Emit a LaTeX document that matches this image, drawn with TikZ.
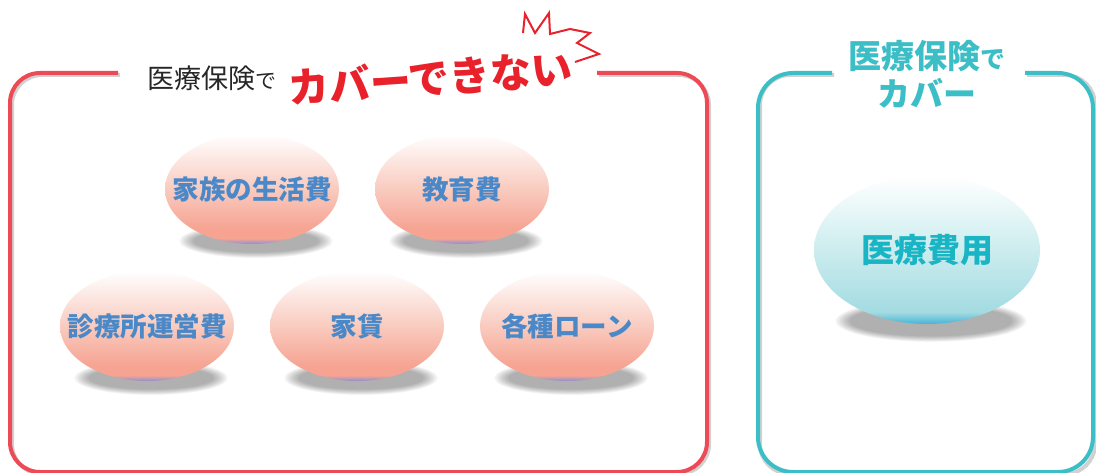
\documentclass[tikz,border=0pt]{standalone}
\usepackage{fontspec}
\newfontfamily\jp{Noto Sans CJK JP}
\usetikzlibrary{shapes.geometric,backgrounds,calc}
\definecolor{boxred}{HTML}{EE4A55}
\definecolor{boxteal}{HTML}{3BBEC6}
\definecolor{titlered}{HTML}{E8212B}
\definecolor{titleteal}{HTML}{3BBEC6}
\definecolor{balltext}{HTML}{4A88C8}
\definecolor{medtext}{HTML}{19B5C4}
\definecolor{ballpurple}{HTML}{8C8FD2}
\definecolor{ballsalmon}{HTML}{F6A392}
\definecolor{ballsalmonb}{HTML}{F9CBBF}
\definecolor{ballteal}{HTML}{45B4D6}
\definecolor{balltealb}{HTML}{A3DBE1}
\definecolor{balltealc}{HTML}{D0EEF0}
\pgfdeclareverticalshading{pinkball}{100bp}{color(0bp)=(ballpurple); color(25bp)=(ballpurple); color(27.5bp)=(ballsalmon); color(32bp)=(ballsalmon); color(50bp)=(ballsalmonb); color(75bp)=(white); color(100bp)=(white)}
\pgfdeclareverticalshading{tealball}{100bp}{color(0bp)=(ballteal); color(25bp)=(ballteal); color(29bp)=(balltealb); color(52bp)=(balltealc); color(75bp)=(white); color(100bp)=(white)}
% #1 name, #2 x radius, #3 y radius, #4 shading
\newcommand\ballbody[4]{%
  \begin{pgfonlayer}{background}
  \foreach \k in {0,...,7}{%
    \fill[black,opacity=0.045] ($(#1)+(4,{#3-3})$) ellipse [x radius={#2*0.72+14-2*\k}, y radius={#3*0.2+6-0.8*\k}];}
  \end{pgfonlayer}
  \shade[shading=#4] (#1) ellipse [x radius=#2, y radius=#3];}
\tikzset{
  boxline/.style={line width=4pt, rounded corners=30pt},
  boxshadow/.style={line width=4pt, rounded corners=30pt, draw=black, opacity=0.18},
  balltxt/.style={inner sep=0pt, font=\jp\bfseries\fontsize{26.5}{30}\selectfont, text=balltext},
  bigtxt/.style={inner sep=0pt, font=\jp\bfseries\fontsize{33}{36}\selectfont, text=medtext},
}
\begin{document}
\begin{tikzpicture}[x=1pt,y=-1pt]
\begin{pgfonlayer}{background}
  \fill[white] (0,0) rectangle (1096,473);
\end{pgfonlayer}
\useasboundingbox (0,0) rectangle (1096,473);

% box shadows
\draw[boxshadow] (120,75) -- (12,75) -- (12,474) -- (709,474) -- (709,75) -- (599,75);
\draw[boxshadow] (834,75) -- (760,75) -- (760,474) -- (1095,474) -- (1095,75) -- (1027,75);
% boxes
\draw[boxline, draw=boxred] (118,73) -- (10,73) -- (10,472) -- (707,472) -- (707,73) -- (597,73);
\draw[boxline, draw=boxteal, rounded corners=35pt] (832,73) -- (758,73) -- (758,472) -- (1093,472) -- (1093,73) -- (1025,73);

% titles
\node[font=\jp\fontsize{27}{30}\selectfont, text=black!85, anchor=west, inner sep=0pt] (t1) at (147,78) {医療保険{\fontsize{21}{24}\selectfont で}};
\node[font=\jp\bfseries\fontsize{41}{46}\selectfont, text=titlered, rotate=4, inner sep=0pt] (t2) at (430,78) {カバーできない};
\draw[titlered, line width=2pt, line join=miter] (523,33) -- (525,14) -- (535,33) -- (549,13) -- (550,34) -- (570,29) -- (590,33) -- (577,43) -- (599,54) -- (575,62);
\node[font=\jp\bfseries\fontsize{33}{38}\selectfont, text=titleteal, align=center] (t3) at (927,74) {医療保険{\fontsize{25}{28}\selectfont で}\\カバー};

% balls
\coordinate (a) at (252,189);
\coordinate (b) at (462,189);
\coordinate (c) at (147,326);
\coordinate (d) at (357,326);
\coordinate (e) at (567,326);
\coordinate (f) at (927,250);
\ballbody{a}{87}{55}{pinkball}
\ballbody{b}{87}{55}{pinkball}
\ballbody{c}{87}{55}{pinkball}
\ballbody{d}{87}{55}{pinkball}
\ballbody{e}{87}{55}{pinkball}
\ballbody{f}{113}{74}{tealball}
\node[balltxt] (ta) at (a) {家族の生活費};
\node[balltxt] (tb) at (b) {教育費};
\node[balltxt] (tc) at (c) {診療所運営費};
\node[balltxt] (td) at (d) {家賃};
\node[balltxt] (te) at (e) {各種ローン};
\node[bigtxt] (tf) at (f) {医療費用};
\end{tikzpicture}
\end{document}
